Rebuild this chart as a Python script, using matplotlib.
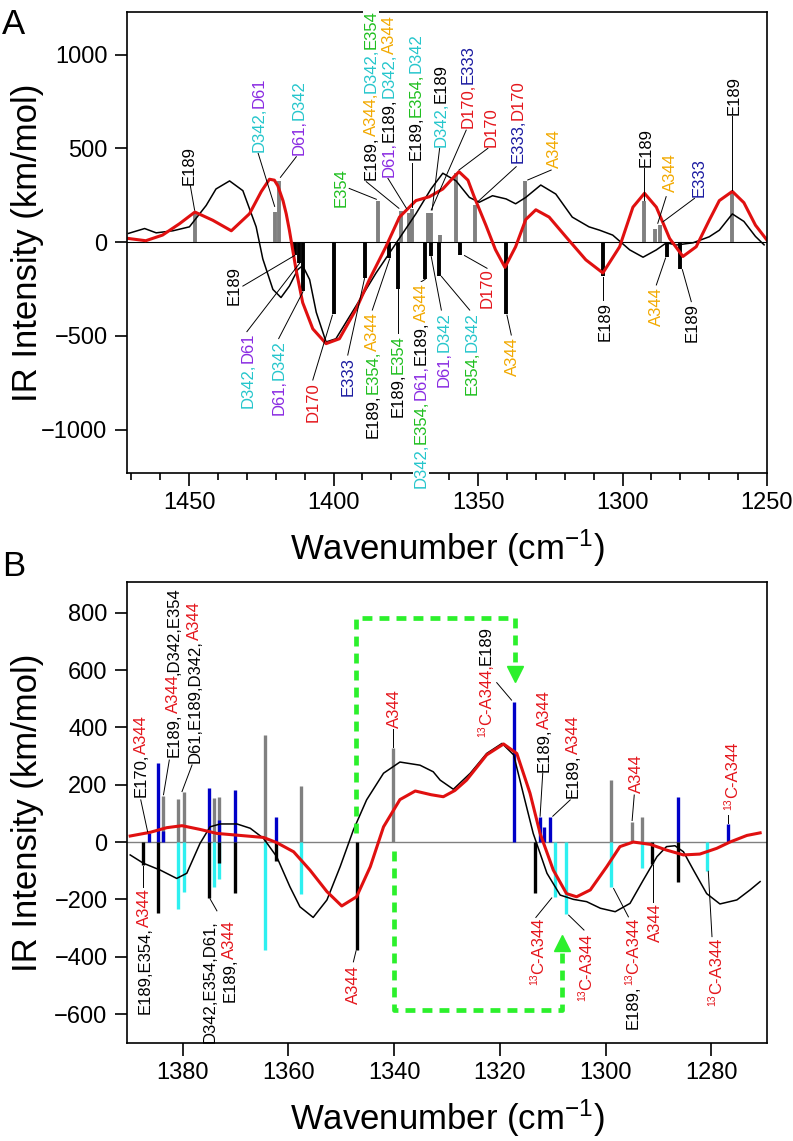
import matplotlib
matplotlib.use('Agg')
import matplotlib.pyplot as plt
import matplotlib.transforms as mtransforms
from matplotlib.ticker import MultipleLocator

plt.rcParams['font.family'] = ['Liberation Sans', 'DejaVu Sans']
plt.rcParams['mathtext.fontset'] = 'custom'
plt.rcParams['mathtext.rm'] = 'Liberation Sans'
plt.rcParams['mathtext.it'] = 'Liberation Sans:italic'

# ---------------- panel A data ----------------
a_up_wn = [1448.0, 1420.2, 1419.0, 1384.7, 1376.8, 1373.9, 1372.8, 1367.4, 1366.3,
           1363.3, 1357.6, 1351.0, 1333.7, 1292.4, 1288.6, 1286.9, 1262.0]
a_up_int = [160, 160, 326, 221, 165, 154, 177, 154, 154, 37, 370, 195, 326, 221, 72, 89, 270]
a_dn_wn = [1413.3, 1411.8, 1410.7, 1399.9, 1389.2, 1380.7, 1377.8, 1368.3, 1366.3,
           1363.4, 1356.1, 1340.2, 1306.8, 1284.7, 1280.0]
a_dn_int = [-68, -112, -262, -384, -191, -83, -249, -196, -74, -179, -68, -384, -182, -81, -144]

a_red_wn = [1471, 1465, 1459.2, 1453.3, 1448, 1441.8, 1435.4, 1429.1, 1425, 1422.2, 1420.5,
            1419.3, 1417.5, 1416.4, 1415.3, 1413, 1410.7, 1407.2, 1402.6, 1398, 1392.2,
            1387.6, 1381.9, 1377.2, 1371.5, 1366.8, 1362.2, 1358.2, 1356.6, 1353.5, 1351.3,
            1347.3, 1344, 1340.7, 1337, 1333.5, 1330, 1325.4, 1319.6, 1312.7, 1306.8, 1301,
            1296.4, 1292.4, 1288.3, 1283.7, 1279.1, 1274.5, 1270, 1266.5, 1262, 1258, 1254, 1250]
a_red_int = [19, 7, 37, 98, 160, 116, 60, 151, 270, 335, 330, 300, 220, 151, 63, -147, -323,
             -463, -542, -516, -358, -200, -25, 133, 221, 242, 283, 350, 375, 330, 240, 90,
             -40, -135, -25, 120, 172, 133, 28, -95, -165, -25, 186, 260, 186, 19, -77, -25,
             116, 221, 270, 210, 90, 10]

a_blk_wn = [1471, 1465.4, 1461.4, 1455.6, 1449.9, 1444.1, 1440.7, 1436, 1431.4, 1426.8, 1424.5,
            1421, 1418.2, 1415.3, 1412.4, 1410.7, 1408.3, 1406, 1402.6, 1399.2, 1392.2, 1385.3,
            1378.4, 1371.5, 1366.3, 1362.2, 1357.6, 1353, 1349.6, 1345, 1340.3, 1337, 1333.5,
            1328.3, 1323.1, 1317.4, 1311.6, 1307.9, 1303.4, 1297.5, 1292.9, 1288.3, 1284.8,
            1281.4, 1275.6, 1270, 1266.5, 1262, 1258, 1254, 1251]
a_blk_int = [46, 72, 49, 60, 81, 195, 283, 326, 274, 81, -90, -253, -296, -235, -147, -126, -200,
             -375, -533, -516, -340, -165, -7, 151, 283, 367, 326, 238, 212, 247, 230, 204, 238,
             304, 256, 133, 81, 63, 37, -42, -81, -42, -4, -16, -4, 28, 63, 150, 110, 30, -15]

# ---------------- panel B data ----------------
b_gray_wn = [1383.7, 1380.8, 1379.8, 1374.0, 1373.1, 1364.4, 1357.6, 1340.3, 1299.0, 1295.1, 1293.2]
b_gray_int = [160, 149, 173, 152, 156, 373, 196, 327, 216, 71, 88]
b_blue_wn = [1386.4, 1384.6, 1383.6, 1375.0, 1373.1, 1370.1, 1362.4, 1317.3, 1312.5, 1311.6,
             1310.5, 1286.4, 1276.8]
b_blue_int = [32, 277, 37, 187, 77, 181, 88, 490, 86, 53, 86, 158, 62]
b_cyan_wn = [1380.8, 1379.8, 1374.0, 1373.1, 1364.4, 1357.6, 1309.6, 1307.5, 1299.0, 1293.2, 1280.8]
b_cyan_int = [-234, -173, -158, -129, -377, -181, -191, -251, -158, -92, -100]
b_blk_wn = [1387.5, 1384.6, 1375.0, 1373.1, 1370.1, 1362.4, 1347.1, 1313.3, 1291.2, 1286.4]
b_blk_int = [-80, -249, -194, -74, -177, -66, -377, -177, -78, -141]

b_red_wn = [1389.9, 1386.1, 1383, 1380.1, 1376.7, 1373.5, 1369.1, 1364.7, 1362.2, 1359, 1355.9,
            1352.7, 1349.9, 1347.1, 1344.5, 1342, 1338.9, 1336, 1333, 1330.7, 1328.5, 1326.3,
            1322.5, 1319.3, 1316.8, 1314.3, 1312.4, 1309.9, 1307.4, 1305.5, 1302.9, 1299.8,
            1297.3, 1294.8, 1291.6, 1288.5, 1285.3, 1282.2, 1279, 1276.5, 1273.3, 1270.8]
b_red_int = [21, 34, 50, 57, 44, 30, 23, 16, -2, -34, -98, -173, -223, -191, -86, 53, 148, 178,
             165, 158, 180, 216, 304, 342, 309, 170, 30, -98, -180, -191, -167, -86, -16, 0, -8,
             -28, -45, -42, -22, 0, 23, 32]
b_blk_curve_wn = [1389.9, 1387.4, 1384.2, 1381.1, 1379.2, 1376.7, 1374.8, 1372.9, 1369.7, 1367.2,
                  1364.7, 1362.2, 1359.7, 1357.8, 1355.3, 1352.7, 1350.2, 1347.7, 1345.2, 1342,
                  1338.9, 1335.1, 1332.6, 1331.3, 1328.8, 1325.6, 1322.5, 1319.6, 1317.4, 1315.6,
                  1313.7, 1311.1, 1308.6, 1306.1, 1303.6, 1301, 1298.2, 1295.4, 1292.9, 1290.3,
                  1288.5, 1286.9, 1285.3, 1283.4, 1280.9, 1278.4, 1275.2, 1272.7, 1270.8]
b_blk_curve_int = [-45, -74, -98, -127, -109, -5, 53, 63, 63, 48, 13, -51, -156, -226, -263, -202,
                   -86, 42, 147, 240, 279, 268, 245, 216, 184, 240, 309, 344, 304, 170, 30, -109,
                   -185, -200, -208, -231, -243, -214, -133, -51, -16, -13, -34, -98, -180, -216,
                   -202, -167, -138]

# colours
K = 'black'
R = '#e4161c'
CY = '#26c6cc'
PU = '#8a2be2'
GR = '#1fbf1f'
OR = '#f2a900'
BL = '#1a1aa0'
BAR_GRAY = '#808080'
BAR_BLUE = '#0000c8'
BAR_CYAN = '#2ef0f0'
LIME = '#2cf02c'

# labels: x, y, anchor ('b' = text starts at y, 't' = text ends at y), parts, leader, white box
labels_a = [
    (1448.3, 305, 'b', [('E189', K)], (1449.6, 302, 1448.1, 170), False),
    (1424.1, 480, 'b', [('D342,', CY), ('D61', PU)], (1426.1, 473, 1420.4, 190), False),
    (1410.3, 464, 'b', [('D61,', PU), ('D342', CY)], (1412.9, 455, 1418.4, 345), False),
    (1395.8, 187, 'b', [('E354', GR)], (1394.6, 286, 1385.2, 228), False),
    (1385.5, 331, 'b', [('E189,', K), ('A344,', OR), ('D342,', CY), ('E354', GR)], (1388.7, 322, 1377.4, 180), True),
    (1379.1, 347, 'b', [('D61,', PU), ('E189,', K), ('D342,', CY), ('A344', OR)], (1381.2, 340, 1374.8, 180), True),
    (1369.9, 437, 'b', [('E189,', K), ('E354,', GR), ('D342', CY)], (1372.7, 420, 1372.7, 188), False),
    (1361.2, 507, 'b', [('D342,', CY), ('E189', K)], (1363.3, 500, 1365.9, 171), False),
    (1352.0, 608, 'b', [('D170,', R), ('E333', BL)], (1354.1, 597, 1366.2, 171), False),
    (1343.9, 507, 'b', [('D170', R)], (1346.6, 500, 1356.6, 384), False),
    (1334.7, 421, 'b', [('E333,', BL), ('D170', R)], (1336.8, 402, 1350.1, 215), False),
    (1322.0, 395, 'b', [('A344', OR)], (1324.7, 384, 1332.8, 331), False),
    (1290.3, 400, 'b', [('E189', K)], (1292.4, 393, 1292.4, 224), False),
    (1281.7, 267, 'b', [('A344', OR)], (1284.9, 242, 1287.8, 100), False),
    (1271.9, 242, 'b', [('E333', BL)], (1275.1, 233, 1286.0, 108), False),
    (1259.9, 680, 'b', [('E189', K)], (1262.0, 672, 1262.0, 280), False),
    (1433.0, -128, 't', [('E189', K)], (1431.4, -235, 1413.5, -72), False),
    (1428.1, -485, 't', [('D342,', CY), ('D61', PU)], (1430.0, -478, 1411.8, -114), False),
    (1417.2, -523, 't', [('D61,', PU), ('D342', CY)], (1419.0, -515, 1410.6, -265), False),
    (1405.6, -747, 't', [('D170', R)], (1407.2, -736, 1400.4, -390), False),
    (1393.5, -613, 't', [('E333', BL)], (1395.1, -603, 1389.3, -195), False),
    (1384.9, -373, 't', [('E189,', K), ('E354,', GR), ('A344', OR)], (1386.6, -363, 1380.6, -90), False),
    (1376.2, -496, 't', [('E189,', K), ('E354', GR)], (1377.8, -487, 1377.8, -252), False),
    (1368.2, -219, 't', [('D342,', CY), ('E354,', GR), ('D61,', PU), ('E189,', K), ('A344', OR)], (1369.7, -212, 1368.3, -199), True),
    (1360.1, -373, 't', [('D61,', PU), ('D342', CY)], (1362.7, -363, 1366.2, -78), False),
    (1350.6, -373, 't', [('E354,', GR), ('D342', CY)], (1352.9, -363, 1362.7, -183), False),
    (1345.3, -139, 't', [('D170', R)], (1346.9, -140, 1354.7, -72), False),
    (1336.4, -507, 't', [('A344', OR)], (1338.5, -496, 1340.0, -390), False),
    (1304.5, -320, 't', [('E189', K)], (1306.6, -309, 1306.6, -185), False),
    (1286.8, -240, 't', [('A344', OR)], (1288.3, -229, 1285.1, -85), False),
    (1274.2, -325, 't', [('E189', K)], (1276.2, -318, 1279.3, -147), False),
]

labels_b = [
    (1386.9, 157, 'b', [('E170,', K), ('A344', R)], (1387.9, 147, 1386.6, 36), False),
    (1380.8, 297, 'b', [('E189,', K), ('A344', R), (',D342,E354', K)], (1382.5, 286, 1383.6, 165), True),
    (1376.8, 276, 'b', [('D61,E189,D342,', K), ('A344', R)], (1378.2, 269, 1380.1, 176), False),
    (1339.1, 398, 'b', [('A344', R)], (1340.2, 395, 1340.2, 333), False),
    (1321.7, 366, 'b', [('^13', R), ('C-A344,', R), ('E189', K)], (1320.6, 556, 1317.8, 495), False),
    (1310.7, 244, 'b', [('E189,', K), ('A344', R)], (1311.9, 240, 1312.4, 90), False),
    (1305.3, 154, 'b', [('E189,', K), ('A344', R)], (1306.7, 147, 1310.0, 90), False),
    (1293.3, 171, 'b', [('A344', R)], (1294.6, 164, 1295.0, 75), False),
    (1275.2, 112, 'b', [('^13', R), ('C-A344', R)], (1276.9, 94, 1276.9, 66), False),
    (1386.3, -160, 't', [('E189,E354,', K), ('A344', R)], (1387.4, -82, 1387.4, -156), False),
    (1374.0, -272, 't', [('D342,E354,D61,', K)], (1373.5, -240, 1374.8, -198), False),
    (1370.2, -272, 't', [('E189,', K), ('A344', R)], None, False),
    (1346.9, -429, 't', [('A344', R)], (1347.7, -418, 1347.2, -380), False),
    (1311.9, -262, 't', [('^13', R), ('C-A344', R)], (1313.2, -263, 1310.2, -195), False),
    (1302.8, -318, 't', [('^13', R), ('C-A344', R)], (1304.1, -307, 1307.0, -255), False),
    (1293.9, -262, 't', [('E189,', K), ('^13', R), ('C-A344', R)], (1295.7, -261, 1298.5, -162), False),
    (1289.8, -213, 't', [('A344', R)], (1291.1, -208, 1291.1, -80), False),
    (1278.2, -335, 't', [('^13', R), ('C-A344', R)], (1279.9, -330, 1280.6, -102), False),
]

# dashed green paths in panel B
arrow_up_x = [1347.2, 1347.2, 1317.1, 1317.1]
arrow_up_y = [30, 782, 782, 612]
arrow_up_tip = (1317.1, 586)
arrow_dn_x = [1340.0, 1340.0, 1308.3, 1308.3]
arrow_dn_y = [-30, -586, -586, -378]
arrow_dn_tip = (1308.3, -352)


def vlabel(ax, x, y, parts, anchor='b', box=False, fs=12):
    fig = ax.figure
    rend = fig.canvas.get_renderer()
    sizes, lens = [], []
    for s, c in parts:
        size = fs * 0.62 if s.startswith('^') else fs
        t = ax.text(0, 0, s.lstrip('^'), fontsize=size)
        lens.append(t.get_window_extent(rend).width * 72 / fig.dpi)
        sizes.append(size)
        t.remove()
    off = 0 if anchor == 'b' else -sum(lens)
    for (s, c), size, n in zip(parts, sizes, lens):
        dx = -0.36 * fs if s.startswith('^') else 0
        tr = mtransforms.offset_copy(ax.transData, fig=fig, x=dx, y=off, units='points')
        kw = {}
        if box:
            kw['bbox'] = dict(boxstyle='square,pad=0.05', fc='white', ec='none')
        ax.text(x, y, s.lstrip('^'), color=c, fontsize=size, rotation=90,
                rotation_mode='anchor', ha='left', va='baseline', transform=tr,
                clip_on=False, zorder=4, **kw)
        off += n


def add_labels(ax, labels):
    for x, y, anc, parts, lead, box in labels:
        if lead is not None:
            ax.plot([lead[0], lead[2]], [lead[1], lead[3]], color='k', lw=0.7,
                    zorder=3, clip_on=False)
        vlabel(ax, x, y, parts, anc, box)


def style_axes(ax):
    for sp in ax.spines.values():
        sp.set_linewidth(1.2)
    ax.tick_params(which='major', direction='out', length=9, width=1.2, labelsize=17, pad=5)
    ax.tick_params(which='minor', direction='out', length=5, width=1.2)


fig = plt.figure(figsize=(7.93, 11.41), dpi=100)
W, H = 793.0, 1141.0

# ---------------- panel A ----------------
ax1 = fig.add_axes([127 / W, 1 - 473 / H, 640 / W, 461 / H])
ax1.axhline(0, color='k', lw=0.8, zorder=1)
ax1.vlines(a_up_wn, 0, a_up_int, colors=BAR_GRAY, lw=2.8, zorder=1)
ax1.vlines(a_dn_wn, 0, a_dn_int, colors='k', lw=2.8, zorder=1)
ax1.plot(a_blk_wn, a_blk_int, color='k', lw=1.1, zorder=2)
ax1.plot(a_red_wn, a_red_int, color='#e01010', lw=2.2, zorder=2)
ax1.set_xlim(1471.5, 1250)
ax1.set_ylim(-1232, 1227)
ax1.xaxis.set_major_locator(MultipleLocator(50))
ax1.xaxis.set_minor_locator(MultipleLocator(10))
ax1.set_yticks([-1000, -500, 0, 500, 1000])
style_axes(ax1)
ax1.set_xlabel('Wavenumber (cm$^{-1}$)', fontsize=25)
ax1.xaxis.set_label_coords(0.5, -0.118)
ax1.set_ylabel('IR Intensity (km/mol)', fontsize=25)
ax1.yaxis.set_label_coords(-0.13, 0.5)
add_labels(ax1, labels_a)
fig.text(2 / W, 1 - 8 / H, 'A', fontsize=25, ha='left', va='top')

# ---------------- panel B ----------------
ax2 = fig.add_axes([127 / W, 1 - 1043 / H, 640 / W, 461 / H])
ax2.axhline(0, color='#808080', lw=1.0, zorder=1)
ax2.vlines(b_gray_wn, 0, b_gray_int, colors=BAR_GRAY, lw=2.4, zorder=1)
ax2.vlines(b_cyan_wn, 0, b_cyan_int, colors=BAR_CYAN, lw=2.4, zorder=1)
ax2.vlines(b_blue_wn, 0, b_blue_int, colors=BAR_BLUE, lw=2.4, zorder=1)
ax2.vlines(b_blk_wn, 0, b_blk_int, colors='k', lw=2.4, zorder=1)
ax2.plot(b_blk_curve_wn, b_blk_curve_int, color='k', lw=1.1, zorder=2)
ax2.plot(b_red_wn, b_red_int, color='#e01010', lw=2.2, zorder=2)
ax2.plot(arrow_up_x, arrow_up_y, color=LIME, lw=3.4, dashes=(2.1, 1.5), zorder=3)
ax2.plot(arrow_dn_x, arrow_dn_y, color=LIME, lw=3.4, dashes=(2.1, 1.5), zorder=3)
ax2.plot(*arrow_up_tip, marker='v', ms=12, color=LIME, zorder=3)
ax2.plot(*arrow_dn_tip, marker='^', ms=12, color=LIME, zorder=3)
ax2.set_xlim(1390.5, 1269.5)
ax2.set_ylim(-701, 907)
ax2.xaxis.set_major_locator(MultipleLocator(20))
ax2.set_yticks([-600, -400, -200, 0, 200, 400, 600, 800])
style_axes(ax2)
ax2.set_xlabel('Wavenumber (cm$^{-1}$)', fontsize=25)
ax2.xaxis.set_label_coords(0.5, -0.118)
ax2.set_ylabel('IR Intensity (km/mol)', fontsize=25)
ax2.yaxis.set_label_coords(-0.13, 0.5)
add_labels(ax2, labels_b)
fig.text(2 / W, 1 - 550 / H, 'B', fontsize=25, ha='left', va='top')

fig.savefig('out.png', dpi=100)
